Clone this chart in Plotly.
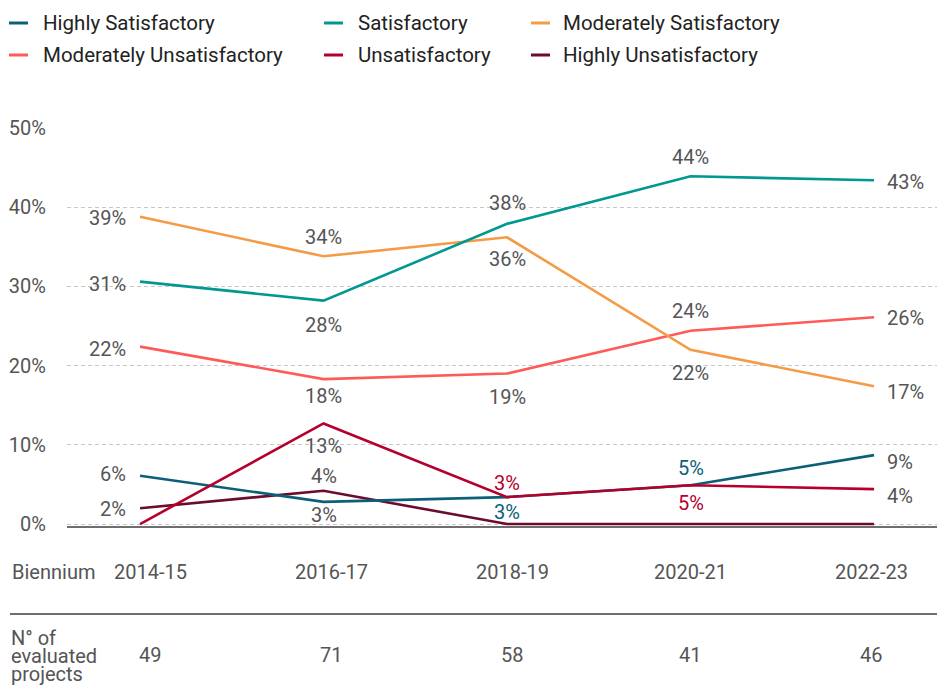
import plotly.graph_objects as go

# Biennium categories and number of evaluated projects per biennium
bienniums = ["2014-15", "2016-17", "2018-19", "2020-21", "2022-23"]
projects = [49, 71, 58, 41, 46]

# Share of projects (%) per rating
highly_satisfactory = [6.1, 2.8, 3.4, 4.9, 8.7]
satisfactory = [30.6, 28.2, 37.9, 43.9, 43.4]
moderately_satisfactory = [38.8, 33.8, 36.2, 22.0, 17.4]
moderately_unsatisfactory = [22.4, 18.3, 19.0, 24.4, 26.1]
unsatisfactory = [0.0, 12.7, 3.4, 4.9, 4.4]
highly_unsatisfactory = [2.0, 4.2, 0.0, 0.0, 0.0]

y_ticks = [0, 10, 20, 30, 40, 50]
y_tick_labels = [f"{v}%" for v in y_ticks]

FONT = "Roboto"
TEXT = "#555555"

series = [
    ("Highly Satisfactory", highly_satisfactory, "#0d5f78"),
    ("Satisfactory", satisfactory, "#009890"),
    ("Moderately Satisfactory", moderately_satisfactory, "#f59a45"),
    ("Moderately Unsatisfactory", moderately_unsatisfactory, "#ff5a58"),
    ("Unsatisfactory", unsatisfactory, "#b5002d"),
    ("Highly Unsatisfactory", highly_unsatisfactory, "#6c0b2b"),
]
colors = {name: c for name, _, c in series}

# Label placement per point: side (l/r/a/b) and vertical nudge in px; None = no label.
# An optional third item gives the label the series colour.
placement = {
    "Highly Satisfactory": [("l", 2), ("b", -13), ("b", -15, True), ("a", 17, True), ("r", -7)],
    "Satisfactory": [("l", -2), ("b", -24), ("a", 21), ("a", 19), ("r", -2)],
    "Moderately Satisfactory": [("l", -1), ("a", 19), ("b", -22), ("b", -23), ("r", -6)],
    "Moderately Unsatisfactory": [("l", -2), ("b", -17), ("b", -23), ("a", 20), ("r", -1)],
    "Unsatisfactory": [None, ("b", -23), ("a", 14, True), ("b", -18, True), ("r", -7)],
    "Highly Unsatisfactory": [("l", -1), ("a", 15), None, None, None],
}

# Plot-area geometry (px)
W, H = 937, 691
L, R, T, B = 67, 0, 128, 165
PW, PH = W - L - R, H - T - B


def px_x(px):
    return (px - L) / PW


def px_y(py):
    return (H - B - py) / PH


xs = list(range(len(bienniums)))
fig = go.Figure()

draw_order = ["Highly Unsatisfactory", "Moderately Unsatisfactory", "Moderately Satisfactory",
              "Satisfactory", "Highly Satisfactory", "Unsatisfactory"]
data = {name: vals for name, vals, _ in series}
for name in draw_order:
    fig.add_trace(go.Scatter(
        x=xs, y=data[name], mode="lines", name=name,
        line=dict(color=colors[name], width=2.6),
        showlegend=False, hoverinfo="skip",
    ))

annotations = []
for name, vals, color in series:
    for i, v in enumerate(vals):
        p = placement[name][i]
        if p is None:
            continue
        side, dy = p[0], p[1]
        col = color if len(p) > 2 else TEXT
        ann = dict(x=xs[i], y=v, xref="x", yref="y", text=f"{round(v):.0f}%",
                   showarrow=False, font=dict(family=FONT, size=20, color=col),
                   yanchor="middle", yshift=dy)
        if side == "l":
            ann.update(xanchor="right", xshift=-12)
        elif side == "r":
            ann.update(xanchor="left", xshift=11)
        else:
            ann.update(xanchor="center")
        annotations.append(ann)

# Legend drawn as short line swatches with labels (3 columns x 2 rows)
shapes = []
leg_cols = [(9, 41), (324, 356), (531, 561)]
leg_rows = [23, 55]
for k, (name, _, color) in enumerate(series):
    lx, tx = leg_cols[k % 3]
    ly = leg_rows[k // 3]
    shapes.append(dict(type="line", xref="paper", yref="paper",
                       x0=px_x(lx), x1=px_x(lx + 19), y0=px_y(ly), y1=px_y(ly),
                       line=dict(color=color, width=3)))
    annotations.append(dict(x=px_x(tx), y=px_y(ly), xref="paper", yref="paper",
                            text=name, showarrow=False, xanchor="left", yanchor="middle",
                            font=dict(family=FONT, size=20.5, color="#222222")))

# Table under the chart: biennium row, separator, project counts
col_centers = [150, 331, 512, 690, 871]
annotations.append(dict(x=px_x(10), y=px_y(572), xref="paper", yref="paper", text="Biennium",
                        showarrow=False, xanchor="left", yanchor="middle",
                        font=dict(family=FONT, size=20, color=TEXT)))
for cx, b, n in zip(col_centers, bienniums, projects):
    annotations.append(dict(x=px_x(cx), y=px_y(572), xref="paper", yref="paper", text=b,
                            showarrow=False, xanchor="center", yanchor="middle",
                            font=dict(family=FONT, size=20, color=TEXT)))
    annotations.append(dict(x=px_x(cx), y=px_y(655), xref="paper", yref="paper", text=str(n),
                            showarrow=False, xanchor="center", yanchor="middle",
                            font=dict(family=FONT, size=20, color=TEXT)))
for line_text, ly in zip(["N° of", "evaluated", "projects"], [637.5, 655.5, 673.5]):
    annotations.append(dict(x=px_x(10), y=px_y(ly), xref="paper", yref="paper", text=line_text,
                            showarrow=False, xanchor="left", yanchor="middle", borderpad=0,
                            font=dict(family=FONT, size=20, color=TEXT)))
shapes.append(dict(type="line", xref="paper", yref="paper",
                   x0=px_x(10), x1=px_x(937), y0=px_y(614), y1=px_y(614),
                   line=dict(color="#6e6e6e", width=2)))

fig.update_layout(
    width=W, height=H,
    margin=dict(l=L, r=R, t=T, b=B, pad=0),
    paper_bgcolor="white", plot_bgcolor="white",
    font=dict(family=FONT, size=20, color=TEXT),
    showlegend=False,
    annotations=annotations,
    shapes=shapes,
    xaxis=dict(range=[-0.398, 4.343], showgrid=False, zeroline=False,
               showticklabels=False, ticks="", showline=True,
               linecolor="#6e6e6e", linewidth=2, layer="below traces", fixedrange=True),
    yaxis=dict(range=[-0.25, 50], tickmode="array", tickvals=y_ticks, ticktext=y_tick_labels,
               showgrid=True, gridcolor="#c8c8c8", gridwidth=1, griddash="4px,3px",
               zeroline=False, showline=False, ticks="", ticklabelstandoff=20,
               tickfont=dict(family=FONT, size=20, color=TEXT), fixedrange=True),
)

fig.write_html("out.html")
